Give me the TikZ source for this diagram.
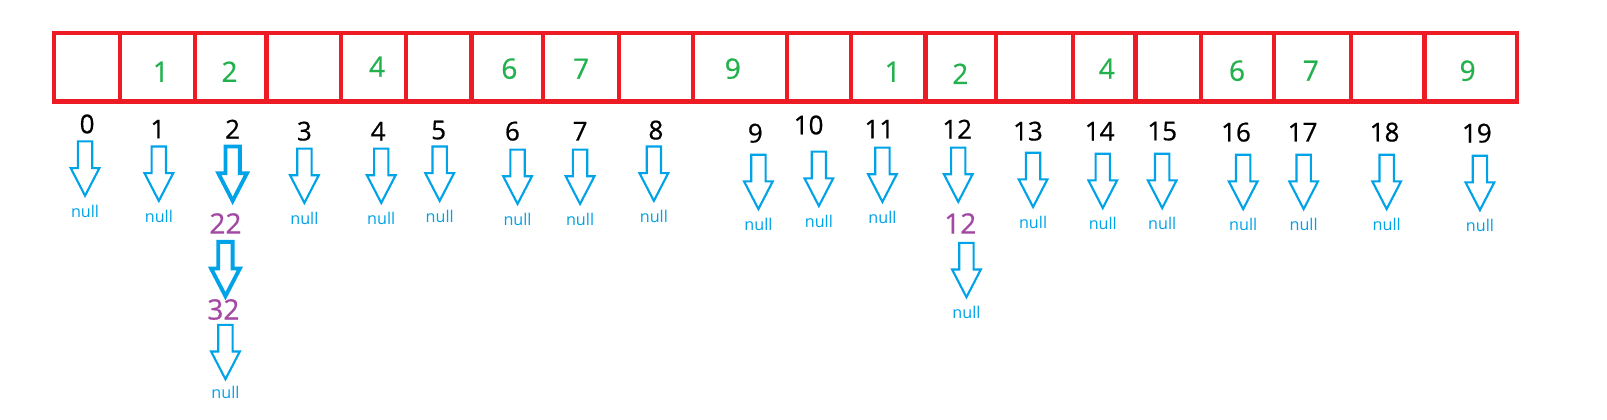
\documentclass[tikz,border=0pt]{standalone}
\usepackage{fontspec}
\setmainfont{Open Sans}
\newfontfamily\digitfont[FakeBold=0.6]{Open Sans}

\definecolor{boxred}{HTML}{ED1C24}
\definecolor{valgreen}{HTML}{22B14C}
\definecolor{arrowblue}{HTML}{00A2E8}
\definecolor{chainpurple}{HTML}{A349A4}

\tikzset{
	idx/.style={inner sep=0pt, font=\digitfont\fontsize{7.4}{8}\selectfont},
	val/.style={inner sep=0pt, text=valgreen, font=\digitfont\fontsize{8}{9}\selectfont},
	chain/.style={inner sep=0pt, text=chainpurple, font=\digitfont\fontsize{8}{9}\selectfont},
	nulltext/.style={inner sep=0pt, text=arrowblue, font=\fontsize{4.6}{5}\selectfont},
	nullarrow/.style={draw=arrowblue, line width=0.6pt, line join=miter},
}

% hollow down arrow: x, top y
\newcommand{\blockarrow}[3][]{%
	\draw[nullarrow,#1] (#2-7,#3) -- (#2+7,#3) -- (#2+7,#3+26) -- (#2+14,#3+26)
		-- (#2,#3+53) -- (#2-14,#3+26) -- (#2-7,#3+26) -- cycle;}

\begin{document}
\begin{tikzpicture}[x=0.10249mm,y=-0.10249mm]
	
	\useasboundingbox (0,0) rectangle (1568,409);
	
	% table
	\draw[boxred,line width=1.2pt] (53,32) rectangle (1480,99);
	\foreach \x in {117,190,260,333,396,460,530,604,676,768,830,903,972,1047,1108,1172,1243,1318,1390}
	{
		\draw[boxred,line width=1.2pt] (\x,32) -- (\x,99);
	}
	
	% stored values
	\foreach \x/\y/\v [count=\k] in {157/70/1,224/70/2,368/65/4,497/67/6,567/67/7,715/67/9,
		871/70/1,937/72/2,1080/67/4,1207/69/6,1279/69/7,1432/69/9}
	{
		\node[val] (v\k) at (\x,\y) {\v};
	}
	
	% indexes, arrows and null
	\foreach \x/\y/\ax/\at/\n in {85/121/83/138/0,154/126/155/143/1,297/128/297/145/3,
		369/128/372/145/4,428/127/429/143/5,500/128/505/146/6,566/128/566/146/7,
		640/127/638/143/8,737/130/740/151/9,789/122/799/148/10,858/126/861/144/11,
		1003/128/1008/149/13,1073/128/1076/150/14,1134/128/1134/150/15,
		1206/129/1213/151/16,1271/129/1272/151/17,1351/129/1353/151/18,1441/130/1444/152/19}
	{
		\node[idx] (i\n) at (\x,\y) {\n};
		\blockarrow{\ax}{\at}
		\node[nulltext] (n\n) at (\ax,\at+68) {null};
	}
	
	% index 2 chain
	\node[idx] (i2) at (227,126) {2};
	\blockarrow[line width=1.1pt]{227}{143}
	\node[chain] (c22) at (220,218) {22};
	\blockarrow[line width=1.1pt]{220}{236}
	\node[chain] (c32) at (218,302) {32};
	\blockarrow{220}{317}
	\node[nulltext] (n2) at (220,383) {null};
	
	% index 12 chain
	\node[idx] (i12) at (934,126) {12};
	\blockarrow{935}{144}
	\node[chain] (c12) at (937,218) {12};
	\blockarrow{943}{237}
	\node[nulltext] (n12) at (943,305) {null};
	
\end{tikzpicture}
\end{document}
